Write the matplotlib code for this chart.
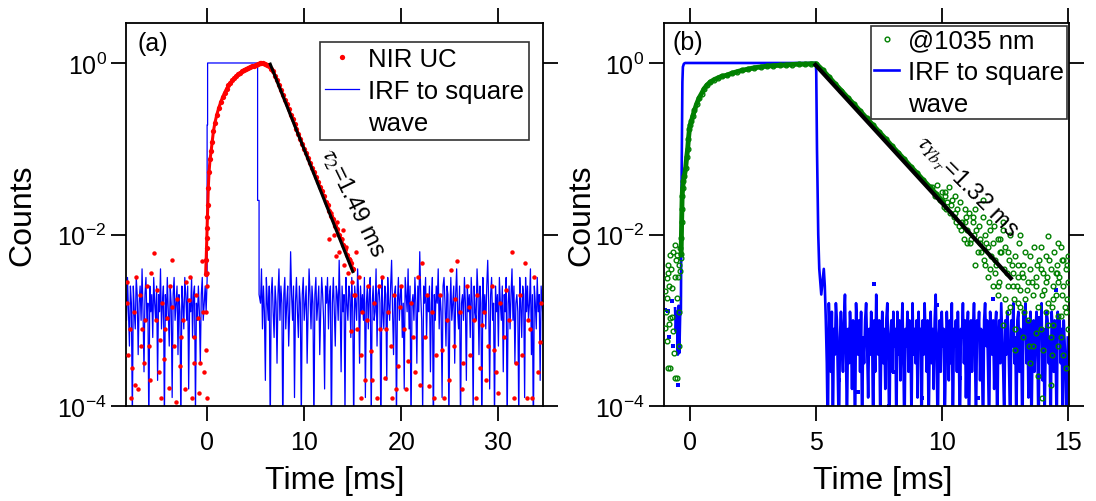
import matplotlib
matplotlib.use("Agg")
import matplotlib.pyplot as plt
import matplotlib.ticker as ticker
from matplotlib.lines import Line2D
import numpy as np

plt.rcParams['font.family'] = ['Liberation Sans', 'DejaVu Sans']
plt.rcParams['mathtext.fontset'] = 'stix'

# ---------------- panel (a): NIR UC ----------------
# main curve (rise + decay), counts
uc_t = [-0.15, -0.1, -0.06, -0.03, 0.0, 0.03, 0.07, 0.12, 0.2, 0.3, 0.41, 0.52, 0.65, 0.8,
        1.0, 1.2, 1.4, 1.6, 1.8, 2.0, 2.2, 2.4, 2.6, 2.8, 3.0, 3.2, 3.4, 3.6, 3.8, 4.0,
        4.2, 4.4, 4.6, 4.8, 5.0, 5.2, 5.4,
        5.6, 5.8, 6.0, 6.2, 6.4, 6.6, 6.8, 7.0, 7.2, 7.4, 7.6, 7.8, 8.0, 8.2, 8.4, 8.6,
        8.8, 9.0, 9.2, 9.4, 9.6, 9.8, 10.0, 10.2, 10.4, 10.6, 10.8, 11.0, 11.2, 11.4,
        11.6, 11.8, 12.0, 12.2, 12.4, 12.6, 12.8, 13.0, 13.2, 13.4, 13.6, 13.8, 14.0,
        14.2, 14.4, 14.6, 14.8, 15.0]
uc_counts = [0.0035, 0.005, 0.007, 0.009, 0.012, 0.016, 0.022, 0.035, 0.054, 0.075, 0.093, 0.12, 0.16, 0.2,
             0.25, 0.3, 0.35, 0.4, 0.45, 0.5, 0.55, 0.59, 0.63, 0.67, 0.71, 0.74, 0.77, 0.8, 0.83, 0.85,
             0.87, 0.89, 0.91, 0.93, 0.95, 0.97, 0.99,
             1.0, 0.99, 0.97, 0.95, 0.91, 0.86, 0.8, 0.71, 0.63, 0.55, 0.48, 0.42, 0.37, 0.33, 0.29, 0.25,
             0.22, 0.195, 0.17, 0.15, 0.13, 0.115, 0.1, 0.089, 0.078, 0.068, 0.06, 0.053, 0.047, 0.041,
             0.036, 0.032, 0.028, 0.024, 0.022, 0.019, 0.0165, 0.015, 0.0125, 0.0115, 0.0098, 0.0088, 0.0076,
             0.0068, 0.0058, 0.0052, 0.0046, 0.004]
# scattered UC points (time, log10 counts)
uc_noise_t = [-8.3, -8.1, -7.9, -7.7, -7.5, -7.4, -7.1, -6.9, -6.7, -6.5, -6.2, -6.0, -5.8, -5.5,
              -5.3, -5.0, -4.85, -4.6, -4.4, -4.15, -3.9, -3.8, -3.64, -3.4, -3.1, -2.8, -2.5, -2.2,
              -1.9, -1.6, -1.3, -0.9, -0.7, -0.55, -0.3, -0.1, -0.05, 0.0, -0.08, -0.03,
              -8.2, -7.8, -7.3, -6.8, -6.4, -5.9, -5.2, -4.7, -4.3, -3.6, -3.2, -2.7, -2.3, -1.8,
              -1.4, -1.1, -0.8, -0.4,
              12.3, 12.8, 13.1, 13.4, 13.6, 13.9, 14.1, 14.3, 14.5, 14.7, 14.9, 15.0, 15.1, 13.3,
              14.0, 12.6, 14.8, 15.3,
              15.2, 15.4, 15.6, 15.8, 16.0, 16.3, 16.6, 16.9, 17.2, 17.5, 17.8, 18.0, 18.3, 18.6,
              18.9, 19.2, 19.5, 19.7, 20.0, 20.3, 20.7, 21.0, 21.4, 21.7, 22.1, 22.4, 22.9, 23.2,
              23.6, 24.0, 24.4, 24.7, 25.1, 25.4, 25.7, 26.0, 26.4, 26.8, 27.1, 27.5, 27.8, 28.1,
              28.5, 28.9, 29.3, 29.8, 30.2, 30.6, 31.1, 31.4, 31.8, 32.2, 32.7, 32.9, 33.3, 33.7,
              34.1, 34.4,
              15.9, 16.5, 17.0, 17.7, 18.4, 19.0, 19.9, 20.5, 21.2, 21.9, 22.6, 23.4, 24.2, 24.9,
              25.5, 26.2, 27.0, 27.7, 28.3, 28.7, 29.5, 30.0, 30.8, 31.6, 32.4, 33.0, 33.5, 34.3]
uc_noise_log = [-2.55, -3.4, -3.1, -3.55, -2.9, -3.75, -3.8, -2.7, -3.1, -3.5, -2.6, -3.3, -2.45, -2.22,
                -3.0, -3.6, -3.23, -2.8, -3.45, -2.97, -3.79, -2.6, -2.3, -3.3, -2.75, -3.53, -3.0, -2.55,
                -2.76, -3.9, -3.2, -2.97, -3.5, -2.31, -3.6, -3.34, -2.6, -3.9, -2.9, -2.45,
                -2.8, -3.9, -2.5, -3.3, -3.0, -3.7, -2.65, -3.9, -3.1, -2.85, -3.95, -3.2, -3.8, -2.5,
                -3.5, -2.7, -3.85, -2.9,
                -1.65, -1.75, -2.0, -1.85, -2.2, -2.05, -2.35, -2.15, -2.45, -2.3, -2.55, -2.4, -2.7, -2.25,
                -1.95, -2.05, -3.13, -2.2,
                -2.7, -3.1, -2.5, -3.4, -2.9, -3.7, -2.6, -3.36, -2.8, -3.9, -3.1, -2.5, -3.67, -2.9,
                -3.3, -2.7, -3.8, -3.53, -2.6, -3.1, -3.47, -2.8, -3.6, -2.5, -2.33, -3.2, -3.76, -2.9,
                -3.4, -2.7, -3.9, -3.0, -2.41, -3.3, -2.31, -2.9, -3.5, -2.6, -3.4, -3.0, -2.7, -3.56,
                -2.9, -3.3, -2.6, -3.6, -2.8, -3.2, -3.0, -2.2, -3.5, -2.7, -2.33, -3.9, -3.1, -2.5,
                -3.6, -2.8,
                -3.9, -3.0, -3.7, -2.6, -3.1, -3.9, -2.85, -3.8, -3.2, -3.75, -2.7, -3.9, -3.35, -3.7,
                -2.75, -3.8, -2.85, -3.9, -3.05, -3.7, -3.35, -3.85, -2.65, -3.9, -3.4, -3.0, -3.9, -3.25]

# IRF (a): sampled every 0.1 ms outside the pulse, log10 counts
irf_a_step = 0.1
irf_a_pre_start = -8.4
irf_a_pre_log = [-2.7, -3.0, -2.5, -2.9, -3.3, -2.6, -2.8, -4.2, -2.6, -2.9,
                 -3.1, -2.5, -2.7, -3.4, -2.8, -2.6, -3.0, -2.4, -2.9, -3.6,
                 -2.7, -2.5, -3.0, -2.8, -4.3, -2.6, -2.9, -2.7, -3.2, -2.5,
                 -2.8, -3.0, -2.6, -3.7, -2.7, -2.9, -2.4, -3.1, -2.8, -2.6,
                 -4.2, -2.7, -3.0, -2.5, -2.9, -3.3, -2.6, -2.8, -3.9, -2.7,
                 -2.5, -3.0, -2.8, -2.6, -3.4, -2.7, -2.9, -4.3, -2.6, -2.8,
                 -3.1, -2.5, -2.7, -3.0, -2.6, -3.8, -2.8, -2.9, -2.5, -3.2,
                 -2.7, -2.6, -4.1, -2.8, -3.0, -2.6, -2.9, -3.5, -2.7, -2.5,
                 -3.0, -2.8, -2.6, -2.9]
irf_a_pulse_t = [0.0, 0.0, 0.05, 0.05, 5.2, 5.2, 5.35, 5.35]
irf_a_pulse_counts = [0.003, 0.19, 0.19, 1.0, 1.0, 0.025, 0.025, 0.002]
irf_a_post_start = 5.5
irf_a_post_log = [-2.8, -2.4, -3.1, -2.6, -2.9, -3.7, -2.5, -2.8, -3.0, -2.6,
                  -4.3, -2.7, -2.5, -2.9, -3.2, -2.6, -2.8, -3.5, -2.7, -2.4,
                  -3.0, -2.6, -2.8, -4.4, -2.7, -2.5, -3.1, -2.8, -2.6, -3.3,
                  -2.9, -2.2, -2.7, -3.0, -2.6, -3.9, -2.8, -2.5, -2.9, -3.2,
                  -2.6, -2.8, -4.2, -2.7, -2.5, -3.0, -2.8, -2.6, -3.5, -2.9,
                  -2.4, -2.7, -3.1, -2.6, -2.8, -4.3, -2.7, -2.5, -3.0, -2.8,
                  -2.6, -3.4, -2.9, -2.5, -2.7, -3.0, -3.8, -2.6, -2.8, -2.5,
                  -3.1, -2.7, -2.6, -4.4, -2.8, -2.5, -2.9, -3.3, -2.6, -2.7,
                  -3.0, -2.3, -2.8, -3.6, -2.6, -2.9, -2.7, -4.1, -2.5, -2.8,
                  -3.0, -2.6, -2.7, -3.2, -2.5, -2.9, -4.3, -2.6, -2.8, -3.0,
                  -2.4, -2.7, -3.5, -2.6, -2.9, -2.7, -3.0, -2.5, -3.9, -2.8,
                  -2.6, -3.1, -2.7, -2.5, -4.2, -2.8, -2.6, -3.0, -2.9, -2.4,
                  -3.3, -2.7, -2.6, -2.8, -4.4, -2.5, -2.9, -3.1, -2.6, -2.7,
                  -3.7, -2.5, -2.8, -3.0, -2.6, -2.3, -2.9, -3.4, -2.7, -2.6,
                  -4.2, -2.8, -2.5, -3.0, -2.7, -2.6, -3.2, -2.8, -3.8, -2.5,
                  -2.7, -2.9, -2.4, -3.1, -2.6, -4.3, -2.8, -2.7, -3.0, -2.5,
                  -2.8, -3.5, -2.6, -2.9, -2.2, -2.7, -3.0, -4.1, -2.6, -2.8,
                  -2.5, -3.2, -2.7, -2.9, -2.6, -3.6, -2.8, -2.5, -4.4, -2.7,
                  -3.0, -2.6, -2.8, -2.4, -3.1, -2.7, -2.9, -3.9, -2.6, -2.5,
                  -2.8, -3.3, -2.6, -2.7, -4.2, -2.9, -2.5, -3.0, -2.8, -2.6,
                  -3.5, -2.7, -2.4, -2.9, -3.1, -2.6, -4.3, -2.8, -2.7, -3.0,
                  -2.5, -2.8, -3.7, -2.6, -2.9, -2.7, -3.2, -2.5, -2.8, -4.1,
                  -2.6, -2.9, -3.0, -2.4, -2.7, -3.4, -2.6, -2.8, -4.4, -2.5,
                  -2.9, -2.7, -3.1, -2.6, -2.3, -2.8, -3.8, -2.7, -2.5, -3.0,
                  -2.8, -4.2, -2.6, -2.9, -2.7, -3.3, -2.5, -2.8, -3.0, -2.6,
                  -3.6, -2.7, -2.9, -2.5, -4.3, -2.8, -2.6, -3.1, -2.7, -2.4,
                  -3.0, -2.6, -3.5, -2.8, -2.7, -2.9, -4.2, -2.5, -2.8, -3.2,
                  -2.6, -2.7, -3.9, -2.5, -2.9, -2.6, -3.0, -2.8, -2.4, -3.4,
                  -2.7, -4.4, -2.6, -2.8, -3.1, -2.5, -2.9, -2.7, -3.7, -2.6,
                  -2.8, -3.0]

fit_a_t = [6.5, 15.0]
fit_a_counts = [0.97, 0.0037]

# ---------------- panel (b): @1035 nm ----------------
yb_t = [-0.36, -0.35, -0.34, -0.33, -0.32, -0.3, -0.27, -0.23, -0.18, -0.14,
        -0.1, -0.07, -0.03, 0.0, 0.05, 0.1, 0.17, 0.25, 0.35, 0.45,
        0.55, 0.66, 0.8, 0.95, 1.1, 1.25, 1.45, 1.65, 1.85, 2.05,
        2.3, 2.55, 2.8, 3.05, 3.3, 3.55, 3.8, 4.05, 4.3, 4.55, 4.8, 5.0,
        5.25, 5.5, 5.75, 6.0, 6.25, 6.5, 6.75, 7.0, 7.25, 7.5,
        7.75, 8.0, 8.25, 8.5, 8.75, 9.0, 9.25, 9.5, 9.75, 10.0]
yb_counts = [0.006, 0.009, 0.014, 0.02, 0.028, 0.035, 0.042, 0.048, 0.06, 0.08,
             0.1, 0.13, 0.17, 0.19, 0.21, 0.24, 0.28, 0.33, 0.39, 0.44,
             0.5, 0.55, 0.6, 0.64, 0.67, 0.7, 0.72, 0.76, 0.79, 0.82,
             0.85, 0.88, 0.9, 0.92, 0.93, 0.94, 0.95, 0.96, 0.97, 0.97, 0.98, 0.98,
             0.83, 0.69, 0.57, 0.475, 0.395, 0.33, 0.274, 0.227, 0.189, 0.157,
             0.131, 0.108, 0.09, 0.075, 0.062, 0.052, 0.043, 0.036, 0.030, 0.0247]
# scattered points before the rise and in the tail (time, log10 counts)
yb_noise_t = [-1.0, -1.0, -0.97, -0.94, -0.94, -0.94, -0.9, -0.87, -0.87, -0.86, -0.83, -0.8, -0.8,
              -0.8, -0.76, -0.73, -0.71, -0.67, -0.67, -0.65, -0.62, -0.6, -0.6, -0.56, -0.53, -0.53,
              -0.53, -0.5, -0.46, -0.46, -0.44, -0.42, -0.4, -0.38,
              9.6, 9.7, 9.8, 9.9, 10.0, 10.05, 10.1, 10.2, 10.25, 10.3, 10.4, 10.45, 10.5,
              10.6, 10.65, 10.7, 10.8, 10.85, 10.9, 11.0, 11.05, 11.1, 11.2, 11.25, 11.3, 11.4, 11.45,
              11.5, 11.6, 11.65, 11.7, 11.8, 11.85, 11.9, 12.0, 12.05, 12.1, 12.2, 12.25, 12.3, 12.4, 12.45,
              12.5, 12.6, 12.65, 12.7, 12.8, 12.85, 12.9, 13.0, 13.05, 13.1, 13.2, 13.25, 13.3, 13.4, 13.45,
              13.5, 13.6, 13.65, 13.7, 13.8, 13.85, 13.9, 14.0, 14.05, 14.1, 14.18, 14.2, 14.3, 14.35,
              14.4, 14.45, 14.5, 14.55, 14.6, 14.65, 14.7, 14.75, 14.8, 14.85, 14.9, 14.95, 15.0,
              12.4, 12.9, 13.2, 13.5, 13.8, 14.0, 14.3, 14.6, 14.9, 13.95, 12.7, 14.2,
              10.15, 10.35, 10.55, 10.75, 10.95, 11.15, 11.35, 11.55, 11.75, 11.95, 12.15, 12.35,
              12.55, 12.75, 12.95, 13.15, 13.35, 13.55, 13.75, 13.95, 14.15, 14.35, 14.55, 14.75, 14.95,
              11.3, 11.8, 12.2, 12.6, 13.0, 13.4, 13.7, 14.1, 14.4, 14.7, 15.0, 12.0, 12.9, 13.6,
              14.3, 14.8, 11.6, 12.4, 13.1, 13.9, 14.6,
              10.1, 10.5, 10.9, 11.2, 11.5, 11.9, 12.1, 12.3, 12.6, 12.8, 13.0, 13.2, 13.5, 13.7,
              13.9, 14.1, 14.25, 14.4, 14.6, 14.8, 14.9, 15.0, 11.0, 11.7, 12.5, 13.3, 14.5, 14.7,
              13.1, 12.2]
yb_noise_log = [-2.66, -3.09, -2.9, -2.51, -2.74, -3.24, -2.45, -2.35, -3.55, -3.04, -2.6, -2.24, -2.97,
                -3.55, -2.4, -2.62, -2.96, -2.2, -3.13, -3.38, -2.5, -2.12, -3.67, -2.3, -2.24, -2.74,
                -3.67, -2.5, -2.35, -3.3, -2.9, -2.16, -2.43, -2.27,
                -1.45, -1.55, -1.42, -1.6, -1.5, -1.68, -1.55, -1.62, -1.45, -1.75, -1.6, -1.8, -1.55,
                -1.7, -1.9, -1.62, -1.85, -2.05, -1.7, -1.95, -1.75, -2.1, -1.85, -2.0, -1.7, -2.2, -1.9,
                -2.05, -1.8, -2.3, -2.0, -2.15, -1.85, -2.4, -2.1, -1.9, -2.3, -2.05, -2.55, -2.2, -1.95, -2.4,
                -2.15, -2.6, -2.3, -2.0, -2.45, -2.75, -2.25, -2.5, -2.1, -2.65, -2.35, -2.9, -2.2, -2.55, -3.3,
                -2.4, -2.7, -2.15, -2.5, -2.85, -2.3, -3.1, -2.45, -2.65, -2.25, -2.02, -2.8, -2.4, -3.4,
                -2.6, -2.2, -2.7, -2.35, -2.95, -2.5, -3.2, -2.3, -2.6, -2.85, -2.4, -2.75, -2.55,
                -3.05, -3.35, -3.2, -3.5, -3.65, -3.35, -3.75, -3.3, -3.55, -3.9, -2.85, -3.05,
                -1.7, -1.65, -1.85, -1.95, -1.8, -2.05, -1.95, -2.2, -2.1, -2.25, -2.35, -2.2,
                -2.45, -2.35, -2.6, -2.45, -2.65, -2.55, -2.35, -2.7, -2.5, -2.85, -2.45, -2.7, -2.35,
                -2.35, -2.5, -2.7, -2.9, -2.8, -3.0, -3.15, -2.9, -3.05, -2.95, -3.1, -2.6, -3.1, -3.3,
                -3.2, -3.4, -1.6, -1.85, -2.0, -2.15, -2.1,
                -1.5, -1.75, -1.85, -1.8, -2.1, -1.95, -2.45, -2.05, -2.2, -2.6, -2.35, -2.5, -2.25, -2.6,
                -2.4, -2.55, -2.3, -2.75, -2.55, -2.3, -2.9, -2.25, -2.1, -2.35, -2.75, -2.75, -2.45, -2.15,
                -2.85, -2.6]

# IRF (b)
irf_b_pre_t = [-0.6, -0.57, -0.53, -0.49, -0.46, -0.43, -0.4]
irf_b_pre_log = [-2.86, -3.13, -2.9, -3.4, -2.83, -3.38, -2.95]
irf_b_pulse_t = [-0.37, -0.34, -0.31, -0.29, -0.25, -0.2, 4.98, 5.0, 5.03, 5.05, 5.08, 5.12, 5.2]
irf_b_pulse_counts = [0.0012, 0.05, 0.6, 0.9, 0.98, 1.0, 1.0, 0.8, 0.1, 0.04, 0.01, 0.004, 0.002]
irf_b_step = 0.04
irf_b_post_start = 5.3
irf_b_post_log = [-2.4, -2.6, -3.0, -3.5, -4.4, -2.8, -3.2, -3.6, -2.9, -4.3,
                  -3.1, -3.4, -2.8, -3.0, -3.7, -4.4, -3.2, -2.9, -3.3, -3.6,
                  -3.0, -2.7, -3.4, -4.2, -3.1, -3.5, -2.9, -3.2, -3.8, -3.0,
                  -3.3, -4.4, -2.8, -3.1, -3.4, -3.0, -3.6, -2.9, -4.3, -3.2,
                  -3.5, -3.0, -2.8, -3.3, -3.9, -3.1, -3.4, -2.9, -3.2, -4.4,
                  -3.0, -3.6, -2.7, -3.2, -3.4, -3.0, -4.2, -3.3, -2.9, -3.5,
                  -3.1, -3.8, -3.0, -2.8, -3.4, -4.4, -3.2, -3.0, -3.6, -2.9,
                  -3.3, -3.1, -4.3, -2.9, -3.4, -3.0, -3.7, -3.2, -2.8, -3.5,
                  -4.4, -3.1, -3.3, -2.9, -3.6, -3.0, -3.2, -4.2, -2.8, -3.4,
                  -3.1, -3.5, -3.0, -3.9, -2.9, -3.3, -3.1, -4.4, -3.0, -3.4,
                  -2.8, -3.2, -3.6, -3.0, -4.3, -3.3, -2.9, -3.5, -3.1, -3.8,
                  -3.0, -2.7, -3.4, -4.4, -3.2, -3.0, -3.6, -2.9, -3.3, -3.1,
                  -4.2, -3.4, -2.9, -3.2, -3.7, -3.0, -3.5, -2.8, -4.4, -3.1,
                  -3.3, -3.0, -3.6, -2.9, -3.4, -4.3, -3.1, -3.2, -2.8, -3.5,
                  -3.0, -3.9, -3.2, -2.9, -4.4, -3.3, -3.0, -3.6, -3.1, -2.8,
                  -3.4, -4.2, -3.0, -3.2, -2.9, -3.7, -3.1, -3.5, -4.4, -3.0,
                  -2.8, -3.3, -3.0, -3.6, -4.3, -2.9, -3.2, -3.4, -3.0, -3.8,
                  -3.1, -2.9, -4.4, -3.3, -3.0, -3.5, -2.8, -3.2, -3.6, -4.2,
                  -3.0, -3.4, -2.9, -3.1, -3.7, -4.4, -3.0, -3.3, -2.8, -3.5,
                  -3.2, -4.3, -3.0, -2.9, -3.6, -3.1, -3.4, -4.4, -2.9, -3.2,
                  -2.8, -3.5, -3.0, -3.9, -3.2, -2.9, -4.3, -3.3, -3.0, -3.6,
                  -3.1, -2.9, -3.4, -4.4, -3.0, -3.2, -2.8, -3.7, -3.1, -4.2,
                  -3.3, -2.9, -3.0, -3.5, -3.2, -4.4, -2.9, -3.1, -3.6, -3.0,
                  -3.4, -4.3, -2.9, -3.2, -3.0, -3.5, -3.1, -4.4, -3.0, -3.3,
                  -3.6, -4.2, -3.2]
# isolated IRF samples (time, log10 counts)
irf_b_dots_t = [-1.0, -0.87, -0.83, -0.73, -0.7, -0.5, 5.9, 6.65, 6.83, 7.29, 7.9, 8.1, 9.2,
                9.8, 10.7, 11.4, 12.0, 13.3, 13.8, 14.5]
irf_b_dots_log = [-2.88, -2.89, -3.2, -2.78, -3.3, -3.75, -3.7, -3.84, -3.3, -2.58, -4.0, -3.6, -3.9,
                  -2.82, -3.67, -3.9, -2.75, -2.95, -2.97, -2.65]

fit_b_t = [4.97, 12.72]
fit_b_counts = [0.95, 0.0031]

RED = '#ff0000'
BLUE = '#0000ff'
GREEN = '#008000'


def sampled(start, step, logs):
    t = start + step * np.arange(len(logs))
    return t, 10.0 ** np.array(logs)


def style(ax, xlim, xticks):
    ax.set_yscale('log')
    ax.set_xlim(*xlim)
    ax.set_ylim(1e-4, 10 ** 0.465)
    ax.set_xticks(xticks)
    ax.yaxis.set_major_locator(ticker.FixedLocator([1e-4, 1e-2, 1.0]))
    ax.yaxis.set_minor_locator(ticker.NullLocator())
    ax.xaxis.set_minor_locator(ticker.NullLocator())
    ax.tick_params(which='major', direction='out', length=11, width=1.3,
                   top=True, right=True, labelsize=18)
    ax.tick_params(axis='x', pad=6)
    ax.tick_params(axis='y', pad=3)
    for s in ax.spines.values():
        s.set_linewidth(1.3)
    ax.set_xlabel('Time [ms]', fontsize=23)
    ax.set_ylabel('Counts', fontsize=23)


def boxed_legend(ax, handles, labels, anchor, handlelength, borderpad):
    # the wrapped second line of the IRF label gets its own, empty handle row
    blank = Line2D([], [], linestyle='none')
    leg = ax.legend(handles=handles + [blank], labels=labels, loc='upper right',
                    bbox_to_anchor=anchor, fontsize=18.5, frameon=True, fancybox=False,
                    edgecolor='#333333', framealpha=1, handlelength=handlelength,
                    handletextpad=0.35, borderpad=borderpad, labelspacing=0.3,
                    borderaxespad=0)
    leg.get_frame().set_linewidth(1.2)
    return leg


fig = plt.figure(figsize=(10.96, 5.02), dpi=100)
ax_a = fig.add_axes([0.115, 0.189, 0.3805, 0.763])
ax_b = fig.add_axes([0.6056, 0.189, 0.3698, 0.763])

# ---- (a) ----
pre_t, pre_y = sampled(irf_a_pre_start, irf_a_step, irf_a_pre_log)
post_t, post_y = sampled(irf_a_post_start, irf_a_step, irf_a_post_log)
irf_a_t = np.concatenate([pre_t, irf_a_pulse_t, post_t])
irf_a_y = np.concatenate([pre_y, irf_a_pulse_counts, post_y])

irf_a_line, = ax_a.plot(irf_a_t, irf_a_y, color=BLUE, lw=0.9, zorder=2)
ax_a.plot(uc_t, uc_counts, '-', color=RED, lw=2.2, zorder=3)
uc_pts, = ax_a.plot(uc_t, uc_counts, 'o', color=RED, ms=3.8, mew=0, zorder=3)
ax_a.plot(uc_noise_t, 10.0 ** np.array(uc_noise_log), 'o', color=RED, ms=3.2, mew=0, zorder=3)
ax_a.plot(fit_a_t, fit_a_counts, color='black', lw=2.2, zorder=4)

style(ax_a, (-8.35, 34.6), [0, 10, 20, 30])
ax_a.yaxis.set_label_coords(-0.213, 0.5)
ax_a.xaxis.set_label_coords(0.5, -0.155)
ax_a.text(0.065, 0.948, '(a)', transform=ax_a.transAxes, fontsize=18,
          ha='center', va='center')
ax_a.text(14.95, 10 ** -1.62, r'$\tau_2$=1.49 ms', fontsize=17, rotation=-64,
          rotation_mode='anchor', ha='center', va='center')
boxed_legend(ax_a, [uc_pts, irf_a_line], ['NIR UC', 'IRF to square', 'wave'],
             (0.966, 0.95), 1.3, 0.2)

# ---- (b) ----
post_bt, post_by = sampled(irf_b_post_start, irf_b_step, irf_b_post_log)
irf_b_t = np.concatenate([irf_b_pre_t, irf_b_pulse_t, post_bt])
irf_b_y = np.concatenate([10.0 ** np.array(irf_b_pre_log), irf_b_pulse_counts, post_by])

irf_b_line, = ax_b.plot(irf_b_t, irf_b_y, color=BLUE, lw=1.9, zorder=2)
ax_b.plot(irf_b_dots_t, 10.0 ** np.array(irf_b_dots_log), 's', color=BLUE, ms=2.2,
          mew=0, zorder=2)
ax_b.plot(yb_t, yb_counts, '-o', color=GREEN, lw=3.5, ms=3.4, mfc='none', mew=1, zorder=3)
yb_pts, = ax_b.plot(yb_noise_t, 10.0 ** np.array(yb_noise_log), 'o', color=GREEN, ms=3.4,
                    mfc='none', mew=1, zorder=3)
ax_b.plot(fit_b_t, fit_b_counts, color='black', lw=3, zorder=4)

style(ax_b, (-1.05, 15.03), [0, 5, 10, 15])
ax_b.yaxis.set_label_coords(-0.165, 0.5)
ax_b.xaxis.set_label_coords(0.539, -0.155)
ax_b.text(0.059, 0.95, '(b)', transform=ax_b.transAxes, fontsize=18,
          ha='center', va='center')
ax_b.text(10.97, 10 ** -1.44, r'$\tau_{Yb_T}$=1.32 ms', fontsize=17, rotation=-45,
          rotation_mode='anchor', ha='center', va='center')
boxed_legend(ax_b, [yb_pts, irf_b_line], ['@1035 nm', 'IRF to square', 'wave'],
             (0.995, 0.992), 1.0, 0.1)

fig.savefig('out.png', dpi=100)
